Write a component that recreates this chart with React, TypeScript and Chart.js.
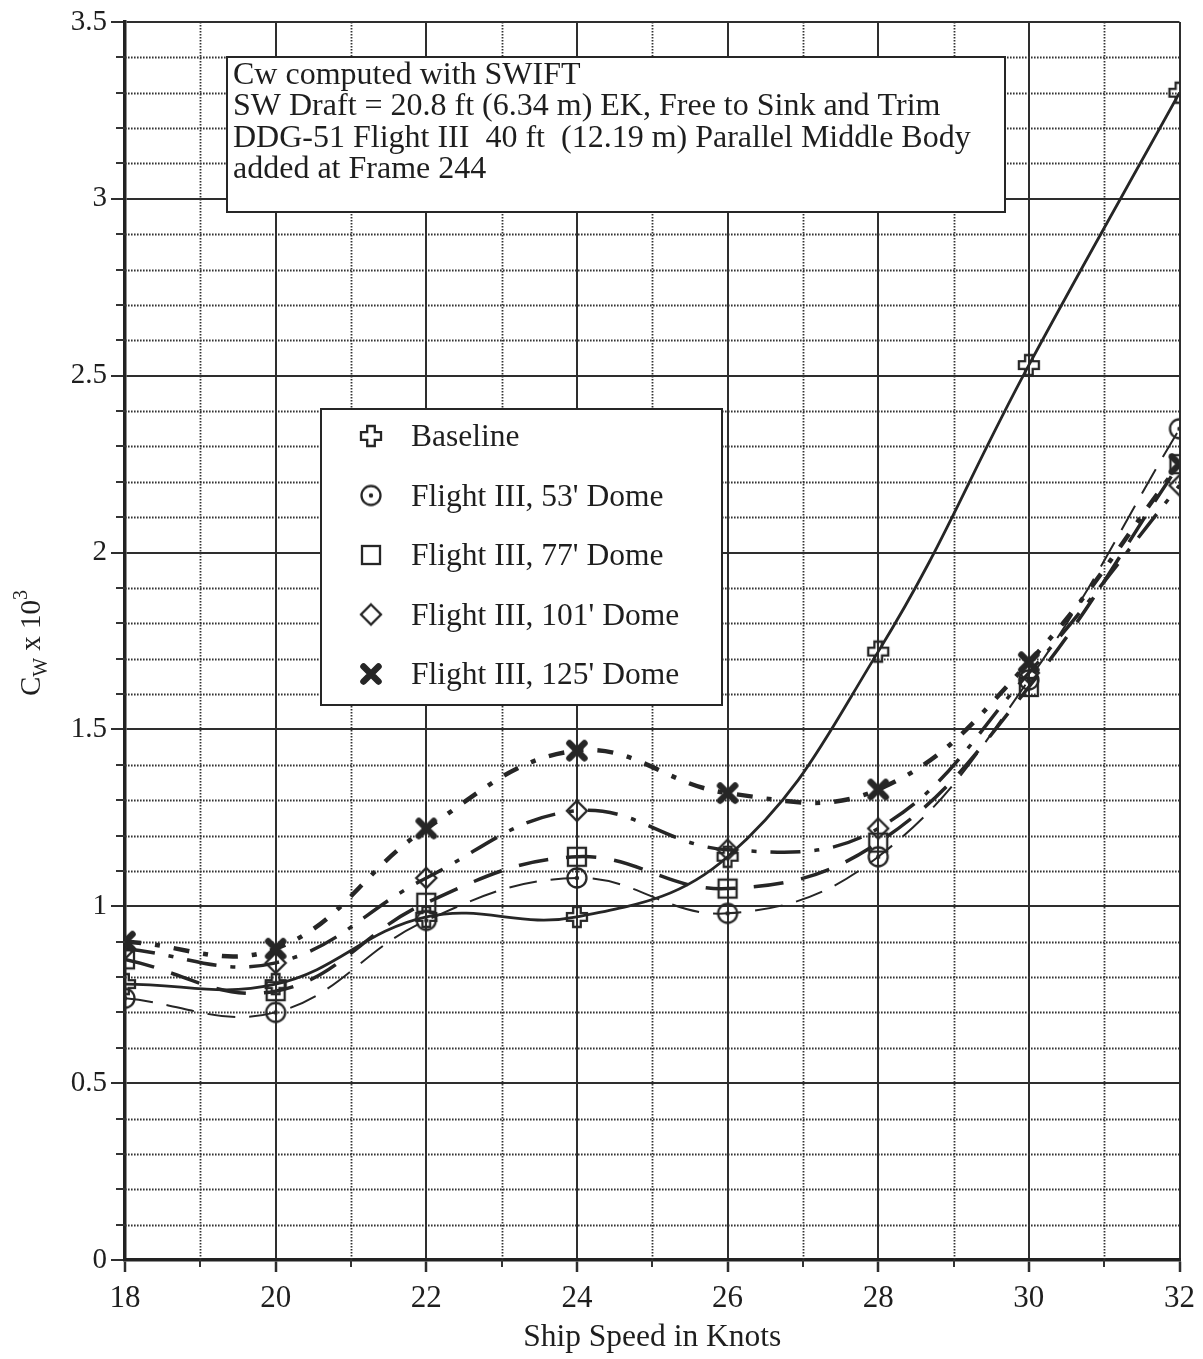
import React, { useEffect, useRef } from 'react';
import { Chart, registerables } from 'chart.js';

Chart.register(...registerables);

// ---------- data ----------
const speeds = [18, 20, 22, 24, 26, 28, 30, 32];
const baseline = [0.78, 0.78, 0.97, 0.97, 1.14, 1.72, 2.53, 3.30];
const dome53 = [0.74, 0.70, 0.96, 1.08, 0.98, 1.14, 1.64, 2.35];
const dome77 = [0.85, 0.76, 1.01, 1.14, 1.05, 1.18, 1.62, 2.25];
const dome101 = [0.88, 0.84, 1.08, 1.27, 1.16, 1.22, 1.66, 2.19];
const dome125 = [0.90, 0.88, 1.22, 1.44, 1.32, 1.33, 1.69, 2.25];

const seriesLabels = [
  'Baseline',
  "Flight III, 53' Dome",
  "Flight III, 77' Dome",
  "Flight III, 101' Dome",
  "Flight III, 125' Dome",
];

const xTickValues = [18, 20, 22, 24, 26, 28, 30, 32];
const xTickLabels = ['18', '20', '22', '24', '26', '28', '30', '32'];
const yTickValues = [0, 0.5, 1, 1.5, 2, 2.5, 3, 3.5];
const yTickLabels = ['0', '0.5', '1', '1.5', '2', '2.5', '3', '3.5'];

const noteLines = [
  'Cw computed with SWIFT',
  'SW Draft = 20.8 ft (6.34 m) EK, Free to Sink and Trim',
  'DDG-51 Flight III  40 ft  (12.19 m) Parallel Middle Body',
  'added at Frame 244',
];

const xTitle = 'Ship Speed in Knots';

const FONT = "'Liberation Serif', 'Times New Roman', serif";
const INK = '#262626';

function makeMarker(kind: string, size = 26): HTMLCanvasElement {
  const c = document.createElement('canvas');
  c.width = size;
  c.height = size;
  const g = c.getContext('2d')!;
  const m = size / 2;
  g.strokeStyle = INK;
  g.fillStyle = INK;
  g.lineWidth = 2.3;
  g.lineJoin = 'miter';
  if (kind === 'plus') {
    const a = 3.8, r = 10;
    g.beginPath();
    g.moveTo(m - a, m - r); g.lineTo(m + a, m - r); g.lineTo(m + a, m - a);
    g.lineTo(m + r, m - a); g.lineTo(m + r, m + a); g.lineTo(m + a, m + a);
    g.lineTo(m + a, m + r); g.lineTo(m - a, m + r); g.lineTo(m - a, m + a);
    g.lineTo(m - r, m + a); g.lineTo(m - r, m - a); g.lineTo(m - a, m - a);
    g.closePath();
    g.stroke();
  } else if (kind === 'circle') {
    g.beginPath();
    g.arc(m, m, 9.5, 0, Math.PI * 2);
    g.stroke();
    g.beginPath();
    g.arc(m, m, 2.2, 0, Math.PI * 2);
    g.fill();
  } else if (kind === 'square') {
    g.strokeRect(m - 9, m - 9, 18, 18);
  } else if (kind === 'diamond') {
    g.beginPath();
    g.moveTo(m, m - 10); g.lineTo(m + 10, m); g.lineTo(m, m + 10); g.lineTo(m - 10, m);
    g.closePath();
    g.stroke();
  } else if (kind === 'x') {
    g.lineWidth = 6.5;
    g.lineCap = 'round';
    g.beginPath();
    g.moveTo(m - 7.5, m - 7.5); g.lineTo(m + 7.5, m + 7.5);
    g.moveTo(m + 7.5, m - 7.5); g.lineTo(m - 7.5, m + 7.5);
    g.stroke();
  }
  return c;
}

export default function App() {
  const ref = useRef<HTMLCanvasElement | null>(null);

  useEffect(() => {
    document.body.style.margin = '0';
    const canvas = ref.current;
    if (!canvas) return;

    const markers = {
      plus: makeMarker('plus'),
      circle: makeMarker('circle'),
      square: makeMarker('square'),
      diamond: makeMarker('diamond'),
      x: makeMarker('x'),
    };
    const markerList = [markers.plus, markers.circle, markers.square, markers.diamond, markers.x];

    const minorGrid = {
      id: 'minorGrid',
      beforeDatasetsDraw(chart: any) {
        const { ctx, chartArea: a, scales } = chart;
        const xs = scales.x, ys = scales.y;
        ctx.save();
        ctx.strokeStyle = '#333';
        ctx.lineWidth = 1.8;
        ctx.setLineDash([1.6, 1.4]);
        for (let k = 1; k < 35; k++) {
          if (k % 5 === 0) continue;
          const py = Math.round(ys.getPixelForValue(k / 10)) + 0.5;
          ctx.beginPath();
          ctx.moveTo(a.left, py);
          ctx.lineTo(a.right, py);
          ctx.stroke();
        }
        for (let v = 19; v < 32; v += 2) {
          const px = Math.round(xs.getPixelForValue(v)) + 0.5;
          ctx.beginPath();
          ctx.moveTo(px, a.top);
          ctx.lineTo(px, a.bottom);
          ctx.stroke();
        }
        ctx.setLineDash([]);
        ctx.lineWidth = 2;
        for (let k = 1; k < 35; k++) {
          if (k % 5 === 0) continue;
          const py = Math.round(ys.getPixelForValue(k / 10));
          ctx.beginPath();
          ctx.moveTo(a.left - 9, py);
          ctx.lineTo(a.left, py);
          ctx.stroke();
        }
        for (let v = 19; v < 32; v += 2) {
          const px = Math.round(xs.getPixelForValue(v));
          ctx.beginPath();
          ctx.moveTo(px, a.bottom);
          ctx.lineTo(px, a.bottom + 7);
          ctx.stroke();
        }
        ctx.restore();
      },
    };

    const overlays = {
      id: 'overlays',
      afterDraw(chart: any) {
        const { ctx } = chart;
        ctx.save();
        // note box
        ctx.fillStyle = '#fff';
        ctx.strokeStyle = INK;
        ctx.lineWidth = 2;
        ctx.fillRect(227, 57, 778, 155);
        ctx.strokeRect(227, 57, 778, 155);
        ctx.fillStyle = '#1e1e1e';
        ctx.font = `32px ${FONT}`;
        ctx.textAlign = 'left';
        ctx.textBaseline = 'alphabetic';
        noteLines.forEach((t, i) => ctx.fillText(t, 233, 84 + i * 31.3));

        // legend box
        ctx.fillStyle = '#fff';
        ctx.fillRect(321, 409, 401, 296);
        ctx.strokeRect(321, 409, 401, 296);
        ctx.fillStyle = '#1e1e1e';
        ctx.font = `31.5px ${FONT}`;
        seriesLabels.forEach((t, i) => {
          const cy = 436 + i * 59.5;
          const mk = markerList[i];
          ctx.drawImage(mk, 371 - mk.width / 2, cy - mk.height / 2);
          ctx.fillText(t, 411, cy + 10);
        });

        // y title with sub/superscript
        ctx.translate(40, 643);
        ctx.rotate(-Math.PI / 2);
        const big = `29px ${FONT}`, small = `20px ${FONT}`;
        const parts: [string, string, number][] = [
          ['C', big, 0],
          ['W', small, 7],
          [' x 10', big, 0],
          ['3', small, -13],
        ];
        let total = 0;
        parts.forEach(([t, f]) => { ctx.font = f; total += ctx.measureText(t).width; });
        let px = -total / 2;
        parts.forEach(([t, f, dy]) => {
          ctx.font = f;
          ctx.fillText(t, px, dy);
          px += ctx.measureText(t).width;
        });
        ctx.restore();
      },
    };

    const mk = (label: string, data: number[], marker: HTMLCanvasElement, width: number, dash: number[]) => ({
      label,
      data: speeds.map((s, i) => ({ x: s, y: data[i] })),
      borderColor: INK,
      backgroundColor: INK,
      borderWidth: width,
      borderDash: dash,
      borderCapStyle: 'butt',
      tension: 0.4,
      pointStyle: marker,
      pointRadius: 10,
      fill: false,
    });

    const labelFor = (v: number, vals: number[], labels: string[]) => {
      const i = vals.findIndex((t) => Math.abs(t - v) < 1e-6);
      return i >= 0 ? labels[i] : '';
    };

    const chart = new Chart(canvas, {
      type: 'line',
      data: {
        datasets: [
          mk(seriesLabels[4], dome125, markers.x, 4.5, [16, 14, 5, 14]),
          mk(seriesLabels[3], dome101, markers.diamond, 3.5, [30, 14, 5, 14]),
          mk(seriesLabels[2], dome77, markers.square, 3.5, [30, 18]),
          mk(seriesLabels[1], dome53, markers.circle, 2, [28, 14]),
          mk(seriesLabels[0], baseline, markers.plus, 2.8, []),
        ] as any,
      },
      plugins: [minorGrid, overlays],
      options: {
        animation: false,
        responsive: true,
        maintainAspectRatio: false,
        layout: { padding: { top: 22, right: 16, left: 0, bottom: 0 } },
        plugins: {
          legend: { display: false },
          tooltip: { enabled: false },
        },
        scales: {
          x: {
            type: 'linear',
            min: 18,
            max: 32,
            afterFit: (s: any) => { s.height = 99; },
            ticks: {
              stepSize: 2,
              color: '#1e1e1e',
              font: { family: FONT, size: 31 },
              padding: 8,
              maxRotation: 0,
              callback: (v: any) => labelFor(Number(v), xTickValues, xTickLabels),
            },
            grid: { color: '#2e2e2e', lineWidth: 2, tickLength: 12, tickColor: '#2e2e2e', tickWidth: 2.5 },
            border: { color: '#222', width: 3.5 },
            title: {
              display: true,
              text: xTitle,
              color: '#1e1e1e',
              font: { family: FONT, size: 31.5 },
              padding: { top: 0, bottom: 2 },
            },
          },
          y: {
            type: 'linear',
            min: 0,
            max: 3.5,
            afterFit: (s: any) => { s.width = 125; },
            ticks: {
              stepSize: 0.5,
              color: '#1e1e1e',
              font: { family: FONT, size: 29 },
              padding: 4,
              callback: (v: any) => labelFor(Number(v), yTickValues, yTickLabels),
            },
            grid: { color: '#2e2e2e', lineWidth: 2, tickLength: 14, tickColor: '#2e2e2e', tickWidth: 2 },
            border: { color: '#222', width: 3.5 },
          },
        },
      } as any,
    });
    return () => chart.destroy();
  }, []);

  return (
    <div style={{ width: 1203, height: 1359, position: 'relative', background: '#fff' }}>
      <canvas ref={ref} />
    </div>
  );
}
